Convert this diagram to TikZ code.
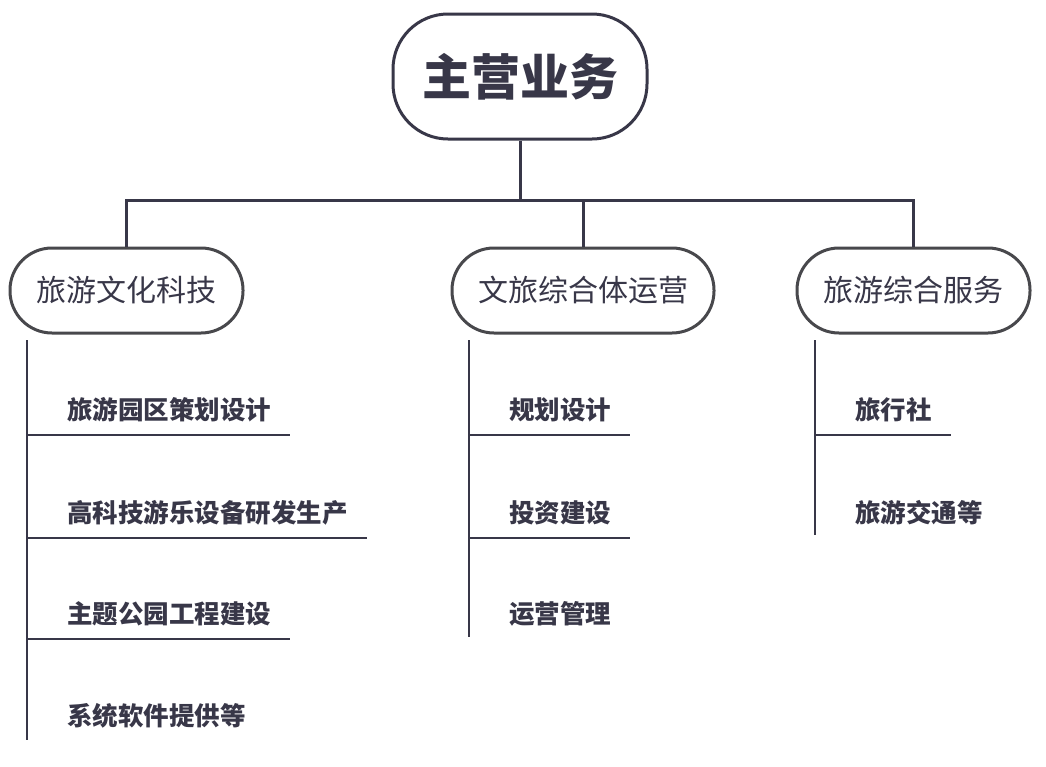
\documentclass[tikz,border=0pt]{standalone}
\usepackage{fontspec}
\setmainfont{Noto Sans CJK SC}
\usetikzlibrary{positioning}

\definecolor{ink}{RGB}{56,55,72}
\definecolor{boxgray}{RGB}{72,72,76}

\tikzset{
  mainbox/.style={draw=ink, line width=3pt, rounded corners=55pt,
    minimum width=254pt, minimum height=125pt, text=ink,
    font=\fontsize{49}{49}\selectfont\bfseries},
  branchbox/.style={draw=boxgray, line width=3pt, rounded corners=42pt,
    minimum height=85pt, text=ink, font=\fontsize{30}{30}\selectfont},
  itemtext/.style={anchor=west, inner sep=0pt, text=ink,
    font=\fontsize{25.5}{25.5}\selectfont\bfseries},
  link/.style={draw=ink, line width=3pt},
  rule/.style={draw=ink, line width=2pt}
}

\begin{document}
\begin{tikzpicture}[x=1pt, y=-1pt]
  \useasboundingbox (0,0) rectangle (1046,766);

  % Define nodes
  \node[mainbox]                       (root) at (520,76.5)   {主营业务};
  \node[branchbox, minimum width=233pt] (b1) at (126.5,290.5) {旅游文化科技};
  \node[branchbox, minimum width=262pt] (b2) at (583,290.5)   {文旅综合体运营};
  \node[branchbox, minimum width=233pt] (b3) at (913.5,290.5) {旅游综合服务};

  \node[itemtext] (a1) at (67,410) {旅游园区策划设计};
  \node[itemtext] (a2) at (67,513) {高科技游乐设备研发生产};
  \node[itemtext] (a3) at (67,614) {主题公园工程建设};
  \node[itemtext] (a4) at (67,716) {系统软件提供等};

  \node[itemtext] (m1) at (509,410) {规划设计};
  \node[itemtext] (m2) at (509,513) {投资建设};
  \node[itemtext] (m3) at (509,614) {运营管理};

  \node[itemtext] (s1) at (855,410) {旅行社};
  \node[itemtext] (s2) at (855,513) {旅游交通等};

  \coordinate (bus)  at (520,200);
  \coordinate (ltop) at (27,340);
  \coordinate (lbot) at (27,740);
  \coordinate (mtop) at (469,340);
  \coordinate (mbot) at (469,637);
  \coordinate (rtop) at (815,340);
  \coordinate (rbot) at (815,535);

  % Connect the nodes
  \draw[link] (root) -- (bus);
  \draw[link] (b1.north) |- (bus) -| (b3.north);
  \draw[link] (b2) -- (b2 |- bus);

  % Item lists
  \draw[rule] (ltop) -- (lbot);
  \draw[rule] ([yshift=-25pt]a1.west -| ltop) -- ([xshift=19pt,yshift=-25pt]a1.east);
  \draw[rule] ([yshift=-25pt]a2.west -| ltop) -- ([xshift=19pt,yshift=-25pt]a2.east);
  \draw[rule] ([yshift=-25pt]a3.west -| ltop) -- ([xshift=19pt,yshift=-25pt]a3.east);

  \draw[rule] (mtop) -- (mbot);
  \draw[rule] ([yshift=-25pt]m1.west -| mtop) -- ([xshift=19pt,yshift=-25pt]m1.east);
  \draw[rule] ([yshift=-25pt]m2.west -| mtop) -- ([xshift=19pt,yshift=-25pt]m2.east);

  \draw[rule] (rtop) -- (rbot);
  \draw[rule] ([yshift=-25pt]s1.west -| rtop) -- ([xshift=19pt,yshift=-25pt]s1.east);

\end{tikzpicture}
\end{document}
